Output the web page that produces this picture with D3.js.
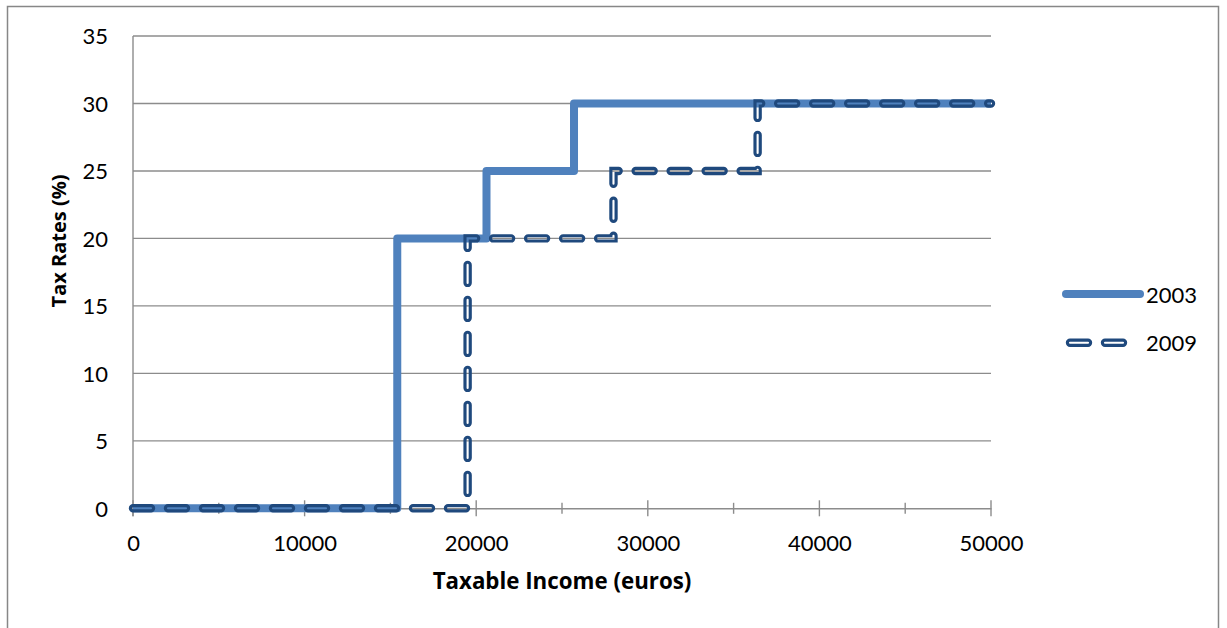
<!DOCTYPE html>
<html>
<head>
<meta charset="utf-8">
<script src="https://cdn.jsdelivr.net/npm/d3@7"></script>
<style>
  html, body { margin: 0; padding: 0; background: #fff; }
  svg { display: block; font-family: Lato, "Open Sans", sans-serif; }
</style>
</head>
<body>
<svg id="chart" width="1227" height="628"></svg>
<script>
// Income thresholds (euros) where each rate starts, and the rates (%)
const income2003 = [0, 15400, 20600, 25700, 50000];
const rates2003  = [0, 20, 25, 30, 30];
const income2009 = [0, 19500, 28000, 36400, 50000];
const rates2009  = [0, 20, 25, 30, 30];

const seriesNames = ["2003", "2009"];
const xTicks = [0, 10000, 20000, 30000, 40000, 50000];
const xMinorTicks = [5000, 15000, 25000, 35000, 45000];
const yTicks = [0, 5, 10, 15, 20, 25, 30, 35];

const svg = d3.select("#chart");
const plot = { left: 133, right: 991, top: 36, bottom: 508.3 };

const x = d3.scaleLinear().domain([0, 50000]).range([plot.left, plot.right]);
const y = d3.scaleLinear().domain([0, 35]).range([plot.bottom, plot.top]);

// outer chart frame
svg.append("rect")
  .attr("x", 7.5).attr("y", 6.5)
  .attr("width", 1211).attr("height", 650)
  .attr("fill", "none").attr("stroke", "#878787").attr("stroke-width", 1.5);

// horizontal gridlines
svg.append("g")
  .selectAll("line")
  .data(yTicks.filter(d => d > 0))
  .join("line")
  .attr("x1", plot.left).attr("x2", plot.right)
  .attr("y1", d => y(d)).attr("y2", d => y(d))
  .attr("stroke", "#8c8c8c").attr("stroke-width", 1.4);

// y axis line and labels
svg.append("line")
  .attr("x1", plot.left).attr("x2", plot.left)
  .attr("y1", plot.top).attr("y2", plot.bottom + 8)
  .attr("stroke", "#8c8c8c").attr("stroke-width", 1.4);

svg.append("g")
  .selectAll("text")
  .data(yTicks)
  .join("text")
  .attr("x", 108)
  .attr("y", d => y(d) + 8.3)
  .attr("text-anchor", "end")
  .attr("font-size", 22)
  .attr("fill", "#000")
  .text(d => d);

// x axis with major and minor ticks
const xAxis = d3.axisBottom(x)
  .tickValues(xTicks)
  .tickSize(0)
  .tickFormat(d => String(d));
const gx = svg.append("g")
  .attr("transform", `translate(0,${plot.bottom})`)
  .call(xAxis);
gx.select(".domain").attr("stroke", "#8c8c8c").attr("stroke-width", 1.4);
gx.selectAll(".tick text")
  .attr("font-family", "Lato, 'Open Sans', sans-serif")
  .attr("font-size", 22)
  .attr("fill", "#000")
  .attr("dy", null)
  .attr("y", 42.5);

svg.append("g")
  .selectAll("line")
  .data(xTicks)
  .join("line")
  .attr("x1", d => x(d)).attr("x2", d => x(d))
  .attr("y1", plot.bottom - 8).attr("y2", plot.bottom + 8)
  .attr("stroke", "#8c8c8c").attr("stroke-width", 1.4);
svg.append("g")
  .selectAll("line")
  .data(xMinorTicks)
  .join("line")
  .attr("x1", d => x(d)).attr("x2", d => x(d))
  .attr("y1", plot.bottom - 5.5).attr("y2", plot.bottom + 5.5)
  .attr("stroke", "#8c8c8c").attr("stroke-width", 1.4);

// axis titles
svg.append("text")
  .attr("x", (plot.left + plot.right) / 2)
  .attr("y", 589)
  .attr("text-anchor", "middle")
  .attr("font-family", "'Open Sans', Lato, sans-serif")
  .attr("font-size", 22.3)
  .attr("font-weight", "bold")
  .attr("fill", "#000")
  .text("Taxable Income (euros)");

svg.append("text")
  .attr("transform", "translate(66,241) rotate(-90)")
  .attr("text-anchor", "middle")
  .attr("font-family", "'Open Sans', Lato, sans-serif")
  .attr("font-size", 20)
  .attr("font-weight", "bold")
  .attr("fill", "#000")
  .text("Tax Rates (%)");

// step lines
const stepLine = d3.line()
  .x(d => x(d[0]))
  .y(d => y(d[1]))
  .curve(d3.curveStepAfter);

const data2003 = income2003.map((v, i) => [v, rates2003[i]]);
const data2009 = income2009.map((v, i) => [v, rates2009[i]]);

const col2003 = "#4f81bd";
const col2009 = "#1f497d";
const dash = "18,17";

svg.append("path")
  .attr("d", stepLine(data2003))
  .attr("fill", "none")
  .attr("stroke", col2003)
  .attr("stroke-width", 8)
  .attr("stroke-linejoin", "round");

// hollow dashed line: the outline is kept, the core is masked out
const defs = svg.append("defs");
function hollowMask(id, d) {
  const m = defs.append("mask")
    .attr("id", id)
    .attr("maskUnits", "userSpaceOnUse")
    .attr("x", 0).attr("y", 0).attr("width", 1227).attr("height", 628);
  m.append("path").attr("d", d).attr("fill", "none")
    .attr("stroke", "#fff").attr("stroke-width", 10)
    .attr("stroke-dasharray", dash).attr("stroke-linecap", "round");
  m.append("path").attr("d", d).attr("fill", "none")
    .attr("stroke", "#000").attr("stroke-width", 2.1)
    .attr("stroke-dasharray", dash).attr("stroke-linecap", "round");
}
function hollowPath(id, d) {
  hollowMask(id, d);
  svg.append("path")
    .attr("d", d)
    .attr("fill", "none")
    .attr("stroke", col2009)
    .attr("stroke-width", 8.4)
    .attr("stroke-dasharray", dash)
    .attr("stroke-linecap", "round")
    .attr("mask", `url(#${id})`);
}
hollowPath("m2009", stepLine(data2009));

// legend
const legendX0 = 1066, legendX1 = 1140, legendTextX = 1146;
const legend = svg.append("g");
legend.append("line")
  .attr("x1", legendX0).attr("x2", legendX1)
  .attr("y1", 294).attr("y2", 294)
  .attr("stroke", col2003).attr("stroke-width", 8)
  .attr("stroke-linecap", "round");
legend.append("text")
  .attr("x", legendTextX).attr("y", 303)
  .attr("font-size", 22).attr("fill", "#000")
  .text(seriesNames[0]);

const legendPath = d3.line()([[legendX0 + 4, 342.7], [legendX0 + 60, 342.7]]);
hollowPath("mLegend", legendPath);
legend.append("text")
  .attr("x", legendTextX).attr("y", 351)
  .attr("font-size", 22).attr("fill", "#000")
  .text(seriesNames[1]);
</script>
</body>
</html>
